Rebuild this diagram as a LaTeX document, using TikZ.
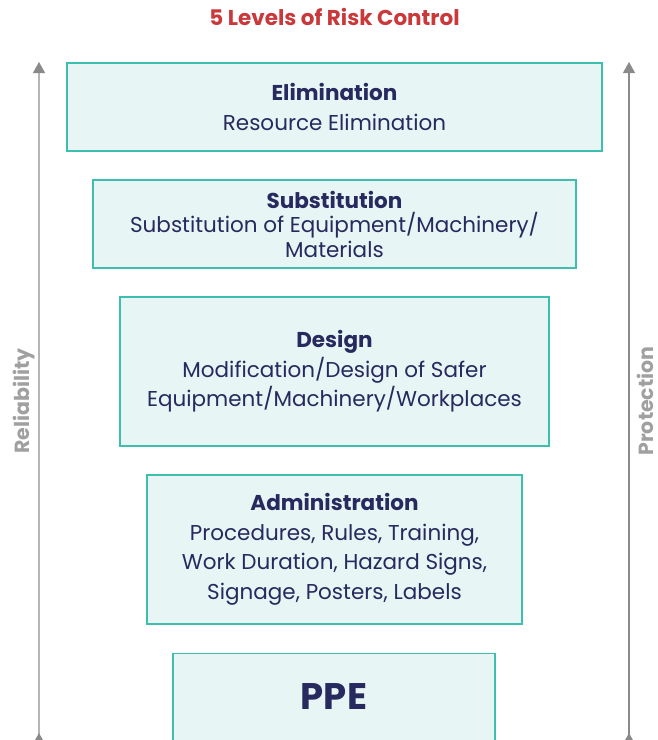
\documentclass[tikz,border=0pt]{standalone}
\usepackage{fontspec}
\setmainfont{Poppins}
\usetikzlibrary{arrows.meta}
\definecolor{boxfill}{HTML}{E8F5F5}
\definecolor{boxline}{HTML}{3DBFB0}
\definecolor{navy}{HTML}{262A5E}
\definecolor{titlered}{HTML}{C9383A}
\definecolor{arrowgray}{HTML}{8A8A8A}
\definecolor{lightline}{HTML}{B5B5B5}
\definecolor{sidegray}{HTML}{A0A0A0}
\tikzset{
  level/.style={draw=boxline, line width=1.2pt, fill=boxfill, text=navy, align=center,
    inner sep=0pt, font=\fontsize{21.5}{29.5}\selectfont},
  sidelabel/.style={text=sidegray, font=\fontsize{20.5}{24}\selectfont\bfseries, rotate=90,
    inner sep=0pt, text height=15pt, text depth=0pt},
  sidearrow/.style={line width=1.2pt, {Triangle[reversed,width=12pt,length=11pt,color=arrowgray]}-{Triangle[width=12pt,length=11pt,color=arrowgray]}}
}
\begin{document}
\begin{tikzpicture}[x=1pt,y=-1pt]
\useasboundingbox (0,0) rectangle (657,740);
\node[text=titlered, font=\fontsize{21.5}{24}\selectfont\bfseries] (title) at (334.5,17) {5 Levels of Risk Control};

\node[level, minimum width=535pt, minimum height=88pt] (elim) at (334.5,107)
  {{\bfseries Elimination}\\Resource Elimination};
\node[level, minimum width=483pt, minimum height=88pt, font=\fontsize{21.5}{24.5}\selectfont] (subst) at (334.5,224)
  {{\bfseries Substitution}\\Substitution of Equipment/Machinery/\\Materials};
\node[level, minimum width=429pt, minimum height=149pt] (design) at (334.5,371.5)
  {{\bfseries Design}\\Modification/Design of Safer\\Equipment/Machinery/Workplaces};
\node[level, minimum width=375pt, minimum height=149pt] (admin) at (334.5,549.5)
  {{\bfseries Administration}\\Procedures, Rules, Training,\\Work Duration, Hazard Signs,\\Signage, Posters, Labels};
\node[level, minimum width=322pt, minimum height=90pt, anchor=north] (ppe) at (334,652.5) {};
\node[text=navy, font=\fontsize{37}{40}\selectfont\bfseries] (ppetext) at (334,697) {PPE};

\coordinate (lb) at (39,744);
\coordinate (lt) at (39,62);
\coordinate (rb) at (629,744);
\coordinate (rt) at (629,62);
\draw[sidearrow, draw=lightline] (lb) -- (lt);
\draw[sidearrow, draw=arrowgray] (rb) -- (rt);

\node[sidelabel] (rel) at (22.5,401) {Reliability};
\node[sidelabel] (prot) at (645.5,401) {Protection};
\end{tikzpicture}
\end{document}
